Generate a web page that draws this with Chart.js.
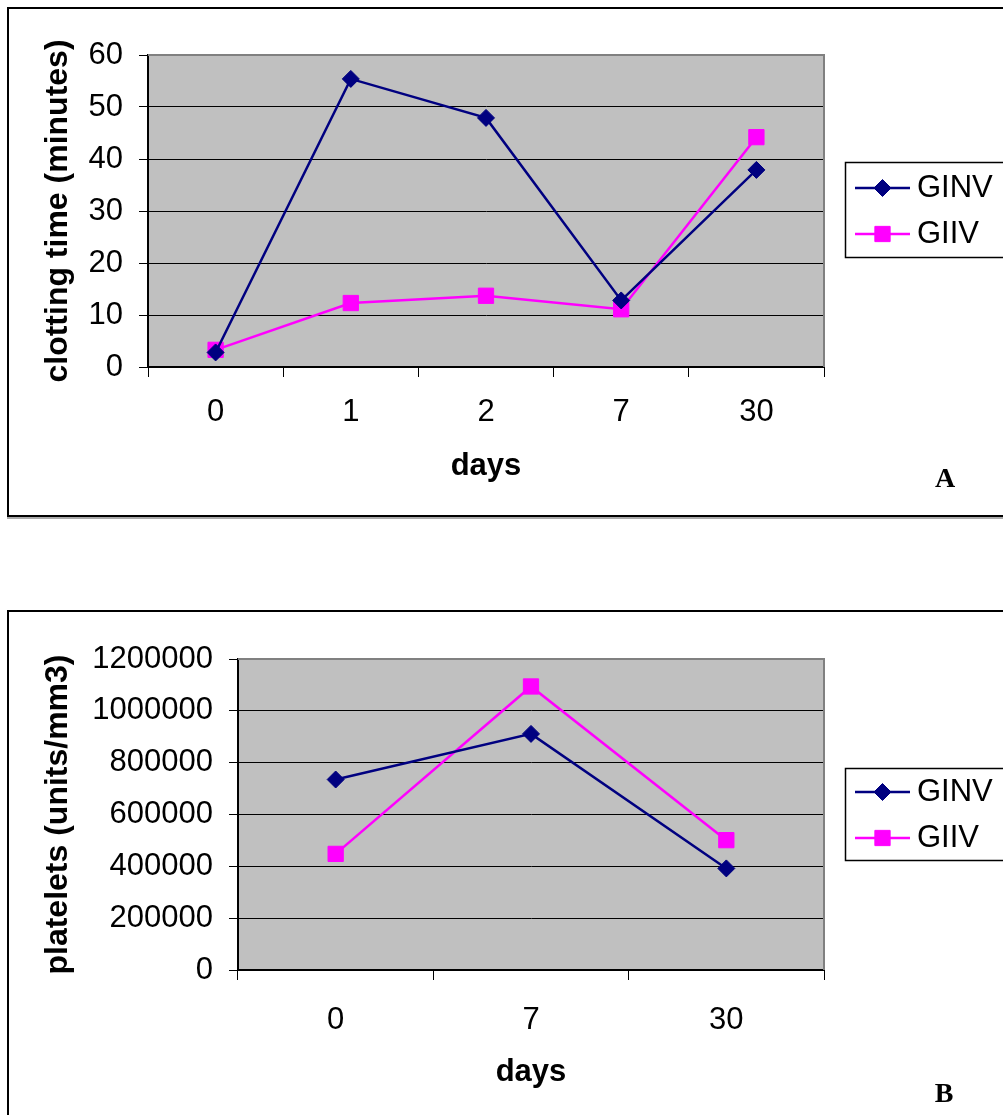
<!DOCTYPE html>
<html><head><meta charset="utf-8">
<script src="https://cdn.jsdelivr.net/npm/chart.js@4/dist/chart.umd.min.js"></script>
<style>
html,body{margin:0;padding:0;background:#fff;width:1003px;height:1115px;overflow:hidden;position:relative;font-family:"Liberation Sans",Arial,sans-serif}
.panel{position:absolute;left:7px;width:1020px;border:2px solid #000;box-shadow:0 2px 0 #aaa}
#pA{top:7px;height:506px}
#pB{top:610px;height:530px}
.wrap{position:absolute;left:0;width:1003px}
#wA{top:0;height:520px}
#wB{top:600px;height:515px}
.lbl{position:absolute;width:40px;text-align:center;font:bold 28px "Liberation Serif","Times New Roman",serif;line-height:32px;color:#000}
</style></head><body>
<div class="panel" id="pA"></div>
<div class="panel" id="pB"></div>
<div class="wrap" id="wA"><canvas id="cA"></canvas></div>
<div class="wrap" id="wB"><canvas id="cB"></canvas></div>
<div class="lbl" style="left:925px;top:462px">A</div>
<div class="lbl" style="left:924px;top:1077px">B</div>
<script>
// ---- data ----
const seriesNames = ['GINV', 'GIIV'];
const daysA = ['0', '1', '2', '7', '30'];
const clotGINV = [2.8, 55.4, 47.9, 12.8, 37.9];
const clotGIIV = [3.3, 12.3, 13.7, 11.1, 44.2];
const daysB = ['0', '7', '30'];
const platGINV = [735000, 911000, 392000];
const platGIIV = [448000, 1094000, 501000];
const yTitleA = 'clotting time (minutes)';
const yTitleB = 'platelets (units/mm3)';
const xTitle = 'days';

Chart.defaults.font.family = '"Liberation Sans", Arial, sans-serif';
Chart.defaults.color = '#000';

const NAVY = '#000080', MAG = '#FF00FF';

const plotBg = {
  id: 'plotBg',
  beforeDraw(chart) {
    const {ctx, chartArea: a} = chart;
    ctx.save();
    ctx.fillStyle = '#C0C0C0';
    ctx.fillRect(a.left, a.top, a.right - a.left, a.bottom - a.top);
    ctx.restore();
  },
  beforeDatasetsDraw(chart) {
    const {ctx, chartArea: a} = chart;
    ctx.save();
    ctx.strokeStyle = '#808080';
    ctx.lineWidth = 2;
    ctx.beginPath();
    ctx.moveTo(a.left, a.top);
    ctx.lineTo(a.right, a.top);
    ctx.lineTo(a.right, a.bottom);
    ctx.stroke();
    ctx.restore();
  }
};

const boxLegend = {
  id: 'boxLegend',
  afterDraw(chart, args, o) {
    const ctx = chart.ctx;
    ctx.save();
    ctx.strokeStyle = '#000';
    ctx.lineWidth = 1.5;
    ctx.strokeRect(o.x, o.y, o.w, o.h);
    chart.data.datasets.forEach((ds, i) => {
      const y = o.rows[i];
      ctx.strokeStyle = ds.borderColor;
      ctx.lineWidth = 2.5;
      ctx.beginPath();
      ctx.moveTo(o.lx0, y);
      ctx.lineTo(o.lx1, y);
      ctx.stroke();
      ctx.fillStyle = ds.backgroundColor;
      ctx.strokeStyle = ds.borderColor;
      ctx.lineWidth = 1;
      Chart.helpers.drawPoint(ctx, {pointStyle: ds.pointStyle, radius: ds.pointRadius, borderWidth: 1, rotation: 0}, (o.lx0 + o.lx1) / 2, y);
      ctx.fillStyle = '#000';
      ctx.font = '31px "Liberation Sans", Arial, sans-serif';
      ctx.textBaseline = 'middle';
      ctx.textAlign = 'left';
      ctx.fillText(ds.label, o.tx, y);
    });
    ctx.restore();
  }
};

function mkDatasets(a, b) {
  return [
    {label: seriesNames[0], data: a, borderColor: NAVY, backgroundColor: NAVY, borderWidth: 2.5,
     pointStyle: 'rectRot', pointRadius: 8.5, pointHoverRadius: 8.5, pointBorderWidth: 1, tension: 0, clip: false},
    {label: seriesNames[1], data: b, borderColor: MAG, backgroundColor: MAG, borderWidth: 2.5,
     pointStyle: 'rect', pointRadius: 10.8, pointHoverRadius: 10.8, pointBorderWidth: 1, tension: 0, clip: false}
  ];
}

function mkChart(id, labels, a, b, cfg) {
  return new Chart(document.getElementById(id), {
    type: 'line',
    data: {labels: labels, datasets: mkDatasets(a, b)},
    plugins: [plotBg, boxLegend],
    options: {
      responsive: true,
      maintainAspectRatio: false,
      animation: false,
      events: [],
      layout: {padding: {left: 0, top: cfg.top, right: 179, bottom: 0}},
      plugins: {
        legend: {display: false},
        tooltip: {enabled: false},
        boxLegend: cfg.legend
      },
      scales: {
        x: {
          offset: true,
          ticks: {font: {size: 31}, color: '#000', padding: cfg.xPad, maxRotation: 0, autoSkip: false},
          grid: {drawOnChartArea: false, offset: true, tickLength: 10, color: '#000', tickColor: '#000', lineWidth: 1},
          border: {color: '#000', width: 2},
          title: {display: true, text: xTitle, font: {size: 31, weight: 'bold'}, color: '#000', padding: {top: 0, bottom: cfg.xTitlePad}},
          afterFit: s => { s.height = cfg.xH; }
        },
        y: {
          min: 0, max: cfg.max,
          ticks: {stepSize: cfg.step, font: {size: 31}, color: '#000', padding: cfg.yPad, callback: v => String(v)},
          grid: {color: c => (c.tick && c.tick.value === cfg.max) ? 'rgba(0,0,0,0)' : '#000', tickColor: '#000', lineWidth: 1, tickLength: 9},
          border: {color: '#000', width: 2},
          title: {display: true, text: cfg.yTitle, font: {size: 32, weight: 'bold'}, color: '#000', padding: {top: 39, bottom: 0}},
          afterFit: s => { s.width = cfg.yW; }
        }
      }
    }
  });
}

mkChart('cA', daysA, clotGINV, clotGIIV, {
  top: 55, max: 60, step: 10, yW: 148, xH: 153, xPad: 17, xTitlePad: 35, yPad: 16, yTitle: yTitleA,
  legend: {x: 845.5, y: 162.5, w: 200, h: 95, rows: [188, 234], lx0: 855, lx1: 910, tx: 917}
});
mkChart('cB', daysB, platGINV, platGIIV, {
  top: 59, max: 1200000, step: 200000, yW: 238, xH: 145, xPad: 22, xTitlePad: 24, yPad: 16, yTitle: yTitleB,
  legend: {x: 845.5, y: 168.5, w: 200, h: 92, rows: [192, 238], lx0: 855, lx1: 910, tx: 917}
});
</script>
</body></html>
